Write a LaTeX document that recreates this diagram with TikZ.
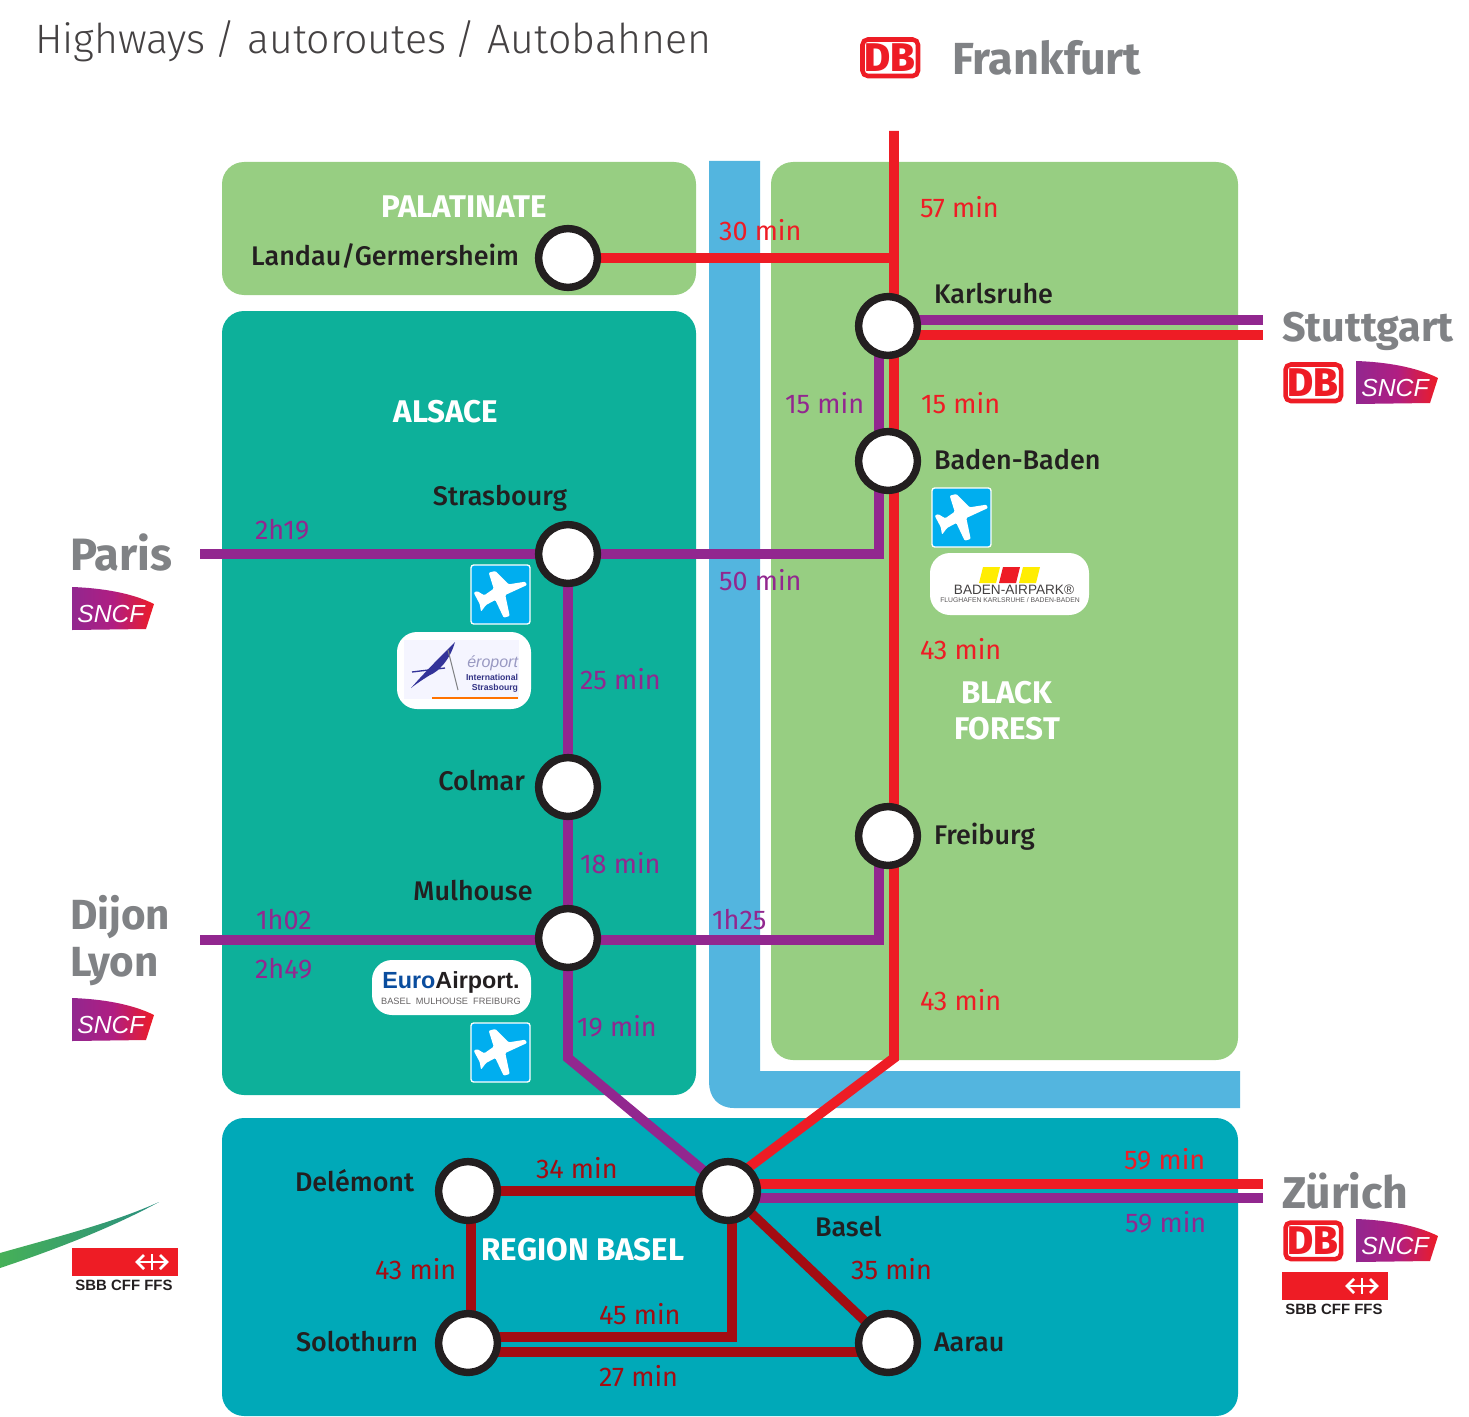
\documentclass[tikz,border=0pt]{standalone}
\usepackage{fontspec}
\setmainfont{Fira Sans}
\newfontfamily\medf{Fira Sans Medium}
\newfontfamily\lightf{Fira Sans Light}
\newfontfamily\arialf{Liberation Sans}
\usetikzlibrary{calc}
\definecolor{cpal}{HTML}{97CE82}
\definecolor{calsace}{HTML}{0DB09A}
\definecolor{cbasel}{HTML}{00A9B8}
\definecolor{criver}{HTML}{53B5DF}
\definecolor{cred}{HTML}{EE1C25}
\definecolor{cpur}{HTML}{92278F}
\definecolor{cmag}{HTML}{B01E82}
\definecolor{cdark}{HTML}{A30C12}
\definecolor{cgrey}{HTML}{808285}
\definecolor{cink}{HTML}{231F20}
\definecolor{cair}{HTML}{00AEEF}
\definecolor{ceuro}{HTML}{0A4D9E}
\definecolor{cswa}{HTML}{46B058}
\definecolor{cswb}{HTML}{2A8F80}
\pgfdeclarelayer{regions}
\pgfdeclarelayer{lines}
\pgfsetlayers{regions,lines,main}
\tikzset{
  x=0.75pt,y=-0.75pt,
  station/.style={circle,draw=cink,fill=white,line width=5.6pt,minimum size=44pt,inner sep=0pt},
  region/.style={rounded corners=16.5pt,draw=none},
  redline/.style={draw=cred,line width=7.4pt},
  purline/.style={draw=cpur,line width=7.4pt},
  darkline/.style={draw=cdark,line width=7pt},
  txt/.style={inner sep=0pt,outer sep=0pt},
  place/.style={txt,text=cink,font=\medf\fontsize{20.2}{24}\selectfont},
  regionname/.style={txt,text=white,font=\bfseries\fontsize{23.5}{27}\selectfont,align=center},
  redtime/.style={txt,text=cred,font=\fontsize{20.3}{24}\selectfont},
  purtime/.style={txt,text=cpur,font=\fontsize{20.3}{24}\selectfont},
  darktime/.style={txt,text=cdark,font=\fontsize{20.3}{24}\selectfont},
  city/.style={txt,text=cgrey,font=\bfseries\fontsize{31}{35.2}\selectfont,align=left},
  dblogo/.pic={
    \draw[cred,line width=3.4pt,fill=white,rounded corners=4pt] (2.5,2.5) rectangle (58,39);
    \node[txt,text=cred,font=\medf\bfseries\fontsize{30}{30}\selectfont] (-t) at (30,21) {DB};
  },
  sncflogo/.pic={
    \shade[left color=cpur,right color=cred,middle color=cmag]
      (0,0) .. controls (30,1) and (60,6) .. (82,17) -- (74,42) -- (0,43) -- cycle;
    \node[txt,text=white,font=\arialf\itshape\fontsize{18.5}{19}\selectfont] (-t) at (39,27) {SNCF};
  },
  sbblogo/.pic={
    \fill[cred] (0,0) rectangle (106,28);
    \draw[white,line width=1.5pt] (80,6) -- (80,22) (67,14) -- (93,14);
    \draw[white,line width=2pt] (72,7) -- (65,14) -- (72,21) (88,7) -- (95,14) -- (88,21);
    \node[txt,text=cink,font=\arialf\bfseries\fontsize{11.2}{12}\selectfont] (-t) at (52,37) {SBB CFF FFS};
  },
  planeicon/.pic={
    \draw[white,line width=1pt,fill=cair,rounded corners=2pt] (0,0) rectangle (59,59);
    \fill[white,rounded corners=0.8pt] (17.7,7.7) -- (24.3,6) -- (37.7,19.3) -- (54.3,16.7) -- (56,20) -- (34.3,30)
      -- (38.7,51) -- (32.7,52.7) -- (24.3,35) -- (15,40) -- (10,46.7) -- (8.7,39) -- (2.7,27.7) -- (6,26)
      -- (13.3,30.3) -- (22.7,23.7) -- cycle;
  }
}
\begin{document}
\begin{tikzpicture}
\useasboundingbox (0,0) rectangle (1469,1416);

% stations
\node[station] (landau) at (568,258) {};
\node[station] (karls) at (888,326) {};
\node[station] (baden) at (888,461) {};
\node[station] (stras) at (568,554) {};
\node[station] (colmar) at (568,787) {};
\node[station] (mulh) at (568,938) {};
\node[station] (freib) at (888,836) {};
\node[station] (basel) at (728,1191) {};
\node[station] (delem) at (468,1191) {};
\node[station] (solo) at (468,1343) {};
\node[station] (aarau) at (888,1343) {};

\begin{pgfonlayer}{regions}
\fill[cpal,region] (222,162) rectangle (696,295);
\fill[calsace,region] (222,311) rectangle (696,1095);
\fill[cpal,region] (771,162) rectangle (1238,1060);
\fill[cbasel,region] (222,1118) rectangle (1238,1416);
\fill[criver] (709,161) -- (760,161) -- (760,1071) -- (1240,1071) -- (1240,1108) -- (734,1108)
  .. controls (718,1108) and (709,1097) .. (709,1082) -- cycle;
\end{pgfonlayer}

% way points
\coordinate (ftop) at (894,131);
\coordinate (fbend) at (894,1058);
\coordinate (fend) at (728,1183);
\coordinate (fjoin) at (894,258);
\coordinate (stuttP) at (1263,320);
\coordinate (stuttR) at (1263,335);
\coordinate (parisE) at (200,554);
\coordinate (lyonE) at (200,940);
\coordinate (pbendA) at (879,554);
\coordinate (pbendB) at (879,940);
\coordinate (pdiag) at (568,1058);
\coordinate (zurR) at (1263,1184);
\coordinate (zurP) at (1263,1198);
\coordinate (soloTop) at (471,1337);
\coordinate (soloBend) at (732,1337);
\coordinate (soloLow) at (471,1352);

\begin{pgfonlayer}{lines}
\draw[redline] (ftop) -- (fbend) -- (fend);
\draw[redline] (landau.center) -- (fjoin);
\draw[purline] (stuttP) -- (stuttP -| karls);
\draw[redline] (stuttR) -- (stuttR -| karls);
\draw[purline] (karls.center -| pbendA) -- (pbendA) -- (stras.center);
\draw[purline] (parisE) -- (stras.center);
\draw[purline] (freib.center -| pbendB) -- (pbendB) -- (pbendB -| mulh);
\draw[purline] (lyonE) -- (lyonE -| mulh);
\draw[purline] (stras.center) -- (colmar.center) -- (mulh.center) -- (pdiag) -- (basel.center);
\draw[redline] (zurR) -- (zurR -| basel);
\draw[purline] (zurP) -- (zurP -| basel);
\draw[darkline] (delem.center) -- (basel.center);
\draw[darkline] (delem.center -| soloTop) -- (soloLow);
\draw[darkline] (soloTop) -- (soloBend) -- (soloBend |- basel.center);
\draw[darkline] (soloLow) -- (soloLow -| aarau);
\draw[darkline] (basel.center) -- (aarau.center);
\end{pgfonlayer}

% title
\node[txt,anchor=west,text=cink!85,font=\lightf\fontsize{30.8}{36}\selectfont] (title) at (35,41) {Highways\kern-2pt{} / autoroutes\kern-2pt{} / Autobahnen};

% region names
\node[regionname] (rpal) at (464,207) {PALATINATE};
\node[regionname] (ral) at (446,412) {ALSACE};
\node[regionname] (rbf) at (1007,711) {BLACK\\FOREST};
\node[regionname] (rba) at (583,1250) {REGION BASEL};

% place names
\node[place,anchor=east] (tlandau) at (519,256) {Landau/Germersheim};
\node[place,anchor=west] (tkarls) at (934,294) {Karlsruhe};
\node[place,anchor=west] (tbaden) at (934,460) {Baden-Baden};
\node[place] (tstras) at (500,498) {Strasbourg};
\node[place,anchor=east] (tcolmar) at (525,781) {Colmar};
\node[place] (tmulh) at (473,891) {Mulhouse};
\node[place,anchor=west] (tfreib) at (934,837) {Freiburg};
\node[place,anchor=west] (tdelem) at (295,1181) {Delémont};
\node[place,anchor=west] (tbasel) at (815,1227) {Basel};
\node[place,anchor=west] (tsolo) at (296,1342) {Solothurn};
\node[place,anchor=west] (taarau) at (934,1342) {Aarau};

% times
\node[redtime,anchor=west] (t1) at (920,207) {57 min};
\node[redtime,anchor=west] (t2) at (719,230) {30 min};
\node[purtime,anchor=west] (t3) at (785,403) {15 min};
\node[redtime,anchor=west] (t4) at (921,403) {15 min};
\node[purtime,anchor=west] (t5) at (255,530) {2h19};
\node[purtime,anchor=west] (t6) at (719,580) {50 min};
\node[redtime,anchor=west] (t7) at (920,649) {43 min};
\node[purtime,anchor=west] (t8) at (580,679) {25 min};
\node[purtime,anchor=west] (t9) at (580,863) {18 min};
\node[purtime,anchor=west] (t10) at (256,920) {1h02};
\node[purtime,anchor=west] (t11) at (712,920) {1h25};
\node[purtime,anchor=west] (t12) at (255,969) {2h49};
\node[redtime,anchor=west] (t13) at (920,1000) {43 min};
\node[purtime,anchor=west] (t14) at (577,1026) {19 min};
\node[darktime,anchor=west] (t15) at (536,1168) {34 min};
\node[redtime,anchor=west] (t16) at (1124,1159) {59 min};
\node[purtime,anchor=west] (t17) at (1125,1222) {59 min};
\node[darktime,anchor=west] (t18) at (375,1269) {43 min};
\node[darktime,anchor=west] (t19) at (851,1269) {35 min};
\node[darktime,anchor=west] (t20) at (599,1314) {45 min};
\node[darktime,anchor=west] (t21) at (599,1376) {27 min};

% cities
\node[city,anchor=west,font=\bfseries\fontsize{33.7}{38}\selectfont] (frank) at (952,58) {Frankfurt};
\node[city,anchor=west] (stutt) at (1282,331) {Stuttgart};
\node[city,anchor=west,font=\bfseries\fontsize{34}{38}\selectfont] (paris) at (70,552) {Paris};
\node[city,anchor=north west,text width=110pt,font=\bfseries\fontsize{31.6}{35.2}\selectfont] (dijon) at (70,895) {Dijon\\Lyon};
\node[city,anchor=west,font=\bfseries\fontsize{33.4}{38}\selectfont] (zurich) at (1282,1191) {Zürich};

% operators
\pic (db1) at (860,37) {dblogo};
\pic (db2) at (1283,362) {dblogo};
\pic (db3) at (1283,1220) {dblogo};
\pic (sn1) at (1356,361) {sncflogo};
\pic (sn2) at (72,587) {sncflogo};
\pic (sn3) at (72,998) {sncflogo};
\pic (sn4) at (1356,1219) {sncflogo};
\pic (sb1) at (72,1248) {sbblogo};
\pic (sb2) at (1282,1272) {sbblogo};

% swoosh
\shade[left color=cswa,right color=cswb]
  (0,1253) .. controls (60,1236) and (115,1222) .. (159,1202)
  .. controls (115,1226) and (60,1248) .. (0,1268) -- cycle;

% plane icons
\pic (pl1) at (471,565) {planeicon};
\pic (pl2) at (932,488) {planeicon};
\pic (pl3) at (471,1023) {planeicon};

% Strasbourg airport logo
\fill[white,rounded corners=15pt] (397,632) rectangle (531,709) ;
\fill[blue!4!white] (404,640) rectangle (519,699);
\fill[blue!50!black!80] (411,688) .. controls (425,672) and (442,655) .. (455,642)
  .. controls (450,660) and (438,672) .. (430,675) .. controls (422,680) and (416,684) .. (411,688) -- cycle;
\draw[blue!50!black!80,line width=1pt] (412,672) -- (445,668);
\draw[cgrey,line width=.8pt] (448,650) -- (458,690);
\node[txt,anchor=east,text=blue!40!black!40,font=\arialf\itshape\fontsize{12}{12}\selectfont] (as1) at (518,663) {éroport};
\node[txt,anchor=east,text=blue!40!black!80,font=\arialf\bfseries\fontsize{6.5}{7}\selectfont] (as2) at (518,677) {International};
\node[txt,anchor=east,text=blue!40!black!80,font=\arialf\bfseries\fontsize{6.5}{7}\selectfont] (as3) at (518,688) {Strasbourg};
\fill[orange!90!red] (432,697) rectangle (518,699);

% Baden airpark logo
\fill[white,rounded corners=15pt] (930,553) rectangle (1089,615);
\fill[yellow!95!orange] (983,567) -- (1000,567) -- (996,583) -- (979,583) -- cycle;
\fill[cred] (1003,567) -- (1020,567) -- (1016,583) -- (999,583) -- cycle;
\fill[yellow!95!orange] (1023,567) -- (1040,567) -- (1036,583) -- (1019,583) -- cycle;
\node[txt,text=cink!85,font=\arialf\fontsize{10.2}{11}\selectfont] (ba1) at (1014,590) {BADEN-AIRPARK®};
\node[txt,text=cink!75,font=\arialf\fontsize{5.1}{6}\selectfont] (ba2) at (1010,600) {FLUGHAFEN KARLSRUHE / BADEN-BADEN};

% EuroAirport logo
\fill[white,rounded corners=15pt] (372,960) rectangle (531,1015);
\node[txt,text=cink,font=\arialf\bfseries\fontsize{17.5}{18}\selectfont] (ea1) at (451,982) {{\color{ceuro}Euro}Airport.};
\node[txt,text=cink!70,font=\arialf\fontsize{6.9}{7}\selectfont] (ea2) at (451,1001) {BASEL\ \ MULHOUSE\ \ FREIBURG};
\end{tikzpicture}
\end{document}
